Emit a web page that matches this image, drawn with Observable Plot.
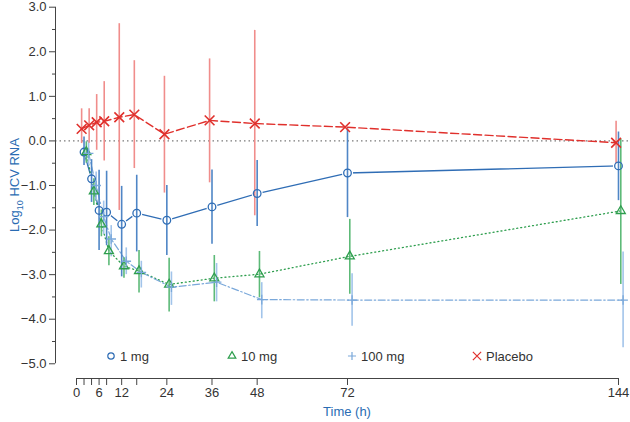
<!DOCTYPE html>
<html><head><meta charset="utf-8">
<script src="https://cdn.jsdelivr.net/npm/d3@7"></script>
<script src="https://cdn.jsdelivr.net/npm/@observablehq/plot@0.6"></script>
<style>body{margin:0;background:#fff;font-family:"Liberation Sans",Arial,sans-serif}</style>
</head><body><div id="chart"></div>
<script>
// ---- data ----
const times = [2, 4, 6, 8, 12, 16, 24, 36, 48, 72, 144];
const seriesNames = ["1 mg", "10 mg", "100 mg", "Placebo"];

const mean1mg = [-0.25, -0.85, -1.56, -1.60, -1.87, -1.62, -1.78, -1.48, -1.18, -0.72, -0.56];
const hi1mg   = [0.09, -0.42, -0.66, -0.68, -1.02, -0.77, -1.00, -0.65, -0.44, 0.27, 0.20];
const lo1mg   = [-0.55, -1.38, -2.46, -2.35, -3.05, -2.49, -2.57, -2.32, -1.92, -1.72, -1.34];

const mean10mg = [-0.25, -1.13, -1.87, -2.47, -2.81, -2.92, -3.22, -3.08, -2.99, -2.59, -1.57];
const hi10mg   = [-0.02, -0.85, -1.55, -2.15, -2.62, -2.46, -2.63, -2.57, -2.48, -1.76, 0.04];
const lo10mg   = [-0.50, -1.45, -2.15, -2.80, -3.08, -3.41, -3.84, -3.61, -3.52, -3.44, -3.22];

const mean100mg = [-0.28, -1.00, -1.70, -2.20, -2.70, -2.95, -3.28, -3.17, -3.56, -3.57, -3.57];
const hi100mg   = [0.00, -0.70, -1.35, -1.90, -2.40, -2.70, -2.94, -2.75, -3.18, -2.98, -2.49];
const lo100mg   = [-0.55, -1.35, -2.10, -2.60, -3.00, -3.30, -3.69, -3.61, -3.99, -4.16, -4.64];

const meanPlacebo = [0.27, 0.35, 0.42, 0.44, 0.53, 0.59, 0.15, 0.46, 0.39, 0.31, -0.04];
const hiPlacebo   = [0.72, 0.72, 1.04, 1.33, 2.63, 1.80, 1.45, 1.84, 2.48, null, 0.44];
const loPlacebo   = [-0.06, -0.05, -0.21, -0.45, -1.56, -0.62, -1.17, -0.94, -1.68, null, -0.51];

const xTicks = [0, 2, 4, 6, 8, 12, 16, 24, 36, 48, 72, 144];
const xTickLabels = [0, 6, 12, 24, 36, 48, 72, 144];
const yTicks = [3, 2, 1, 0, -1, -2, -3, -4, -5];
const yMinorTicks = [2.5, 1.5, 0.5, -0.5, -1.5, -2.5, -3.5, -4.5];

// ---- styles ----
const styles = {
  "1 mg":    {color: "#2f6db5", err: "#4f86c6", symbol: "circle",    r: 3.8, dash: null,            dx: 0,    sw: 1.3},
  "10 mg":   {color: "#2e9e4e", err: "#5dba78", symbol: "triangle2", r: 4.3, dash: "1,3",           dx: 2.3,  sw: 1.3},
  "100 mg":  {color: "#7aa8da", err: "#a2c4ea", symbol: "plus",      r: 3.2, dash: "7,2.5,1.5,2.5", dx: 4.6,  sw: 1.2},
  "Placebo": {color: "#e0302c", err: "#f08d8b", symbol: "times",     r: 4.5, dash: "8,3.5",         dx: -2.4, sw: 1.4}
};

const table = {
  "1 mg": [mean1mg, hi1mg, lo1mg],
  "10 mg": [mean10mg, hi10mg, lo10mg],
  "100 mg": [mean100mg, hi100mg, lo100mg],
  "Placebo": [meanPlacebo, hiPlacebo, loPlacebo]
};
const rows = seriesNames.flatMap(s => times.map((t, i) => ({
  series: s, t, v: table[s][0][i], hi: table[s][1][i], lo: table[s][2][i]
})));
const bySeries = s => rows.filter(d => d.series === s);

const xDomain = [-5.58, 147.19];
const yDomain = [-5.33, 3];
const fmtY = d => (d < 0 ? "\u2212" : "") + Math.abs(d).toFixed(1);

const lineMarks = seriesNames.map(s => Plot.line(bySeries(s), {
  x: "t", y: "v", stroke: styles[s].color, strokeWidth: styles[s].sw,
  strokeDasharray: styles[s].dash, dx: styles[s].dx
}));
const errMarks = seriesNames.map(s => Plot.ruleX(bySeries(s).filter(d => d.hi != null), {
  x: "t", y1: "lo", y2: "hi", stroke: styles[s].err, strokeWidth: 1.6, dx: styles[s].dx
}));
const dotMarks = seriesNames.map(s => Plot.dot(bySeries(s), {
  x: "t", y: "v", symbol: () => styles[s].symbol, r: styles[s].r, stroke: styles[s].color,
  fill: "none", strokeWidth: s === "Placebo" ? 1.6 : 1.3, dx: styles[s].dx
}));

const plot = Plot.plot({
  width: 630, height: 422,
  marginLeft: 55, marginRight: 0, marginTop: 6.7, marginBottom: 44,
  x: {domain: xDomain, label: null},
  y: {domain: yDomain, label: null},
  style: {fontFamily: "Liberation Sans, Arial, sans-serif", fontSize: "13px", color: "#333", background: "#fff"},
  marks: [
    Plot.ruleY([0], {stroke: "#7a7a7a", strokeWidth: 1.1, strokeDasharray: "1.5,3"}),
    ...lineMarks,
    Plot.dot(bySeries("1 mg"), {x: "t", y: "v", r: 5.6, fill: "white", stroke: null}),
    ...errMarks,
    ...dotMarks,
    Plot.ruleX([xDomain[0]], {y1: yTicks[yTicks.length - 1], y2: yTicks[0], stroke: "#444"}),
    Plot.axisY({ticks: yTicks, tickSize: 6, tickPadding: 3, tickFormat: fmtY, fontSize: 13, label: null, stroke: "#444", fill: "#333"}),
    Plot.axisY({ticks: yMinorTicks, tickSize: 3, tickFormat: () => "", label: null, stroke: "#444"}),
    Plot.ruleY([yDomain[0]], {x1: xTicks[0], x2: xTicks[xTicks.length - 1], stroke: "#444"}),
    Plot.axisX({ticks: xTicks, tickSize: 7, tickPadding: 2, tickFormat: d => xTickLabels.includes(d) ? String(d) : "", fontSize: 13, label: null, stroke: "#444", fill: "#333"})
  ]
});
document.getElementById("chart").appendChild(plot);

// ---- labels & legend ----
const svg = d3.select(plot);
const blue = "#2a6cb3";
const yl = svg.append("text")
  .attr("transform", "translate(14,185) rotate(-90)")
  .attr("text-anchor", "middle").attr("dy", "0.35em")
  .attr("fill", blue).style("font-size", "13px");
yl.append("tspan").text("Log");
yl.append("tspan").text("10").style("font-size", "9px").attr("dy", 4);
yl.append("tspan").text(" HCV RNA").attr("dy", -4);

svg.append("text").attr("x", 347).attr("y", 416).attr("text-anchor", "middle")
  .attr("fill", blue).style("font-size", "13px").text("Time (h)");

const legendPos = {"1 mg": 111, "10 mg": 232, "100 mg": 352, "Placebo": 477};
const symMap = {circle: d3.symbolCircle, triangle2: d3.symbolTriangle2, plus: d3.symbolPlus, times: d3.symbolTimes};
const lg = svg.append("g");
seriesNames.forEach(s => {
  const st = styles[s];
  const x0 = legendPos[s];
  const r = st.symbol === "circle" ? 3.2 : st.r * 0.85;
  lg.append("path")
    .attr("d", d3.symbol(symMap[st.symbol], Math.PI * r * r)())
    .attr("transform", `translate(${x0},356)`)
    .attr("fill", "none").attr("stroke", st.color).attr("stroke-width", 1.2);
  lg.append("text").attr("x", x0 + 9).attr("y", 356).attr("dy", "0.35em")
    .attr("text-anchor", "start")
    .attr("fill", "#333").style("font-size", "13px").text(s);
});
</script>
</body></html>
